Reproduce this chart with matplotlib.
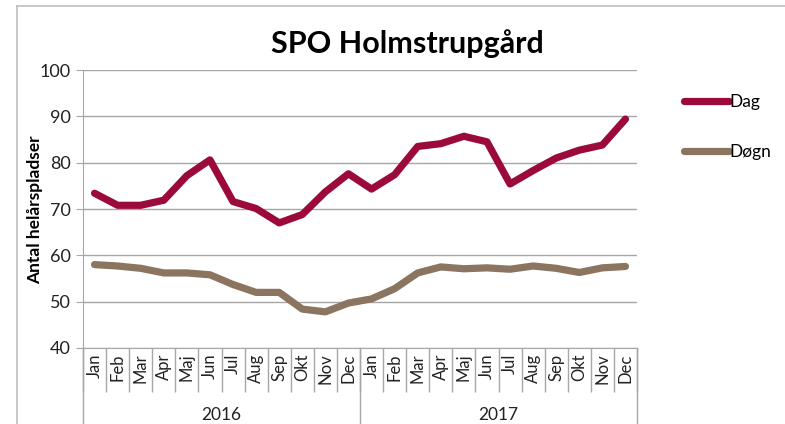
import numpy as np
import matplotlib.pyplot as plt
from matplotlib.lines import Line2D
from matplotlib.transforms import blended_transform_factory

plt.rcParams["font.family"] = ["Lato", "DejaVu Sans"]

# Data
months = ["Jan", "Feb", "Mar", "Apr", "Maj", "Jun",
          "Jul", "Aug", "Sep", "Okt", "Nov", "Dec"]
years = ["2016", "2017"]
dag = [73.4, 70.8, 70.8, 71.9, 77.2, 80.6, 71.6, 70.1, 67.0, 68.8, 73.7, 77.6,
       74.3, 77.4, 83.5, 84.1, 85.7, 84.5, 75.4, 78.3, 81.0, 82.7, 83.8, 89.4]
dogn = [58.0, 57.7, 57.2, 56.2, 56.2, 55.8, 53.7, 52.0, 52.0, 48.4, 47.8, 49.7,
        50.6, 52.8, 56.2, 57.5, 57.1, 57.3, 57.0, 57.7, 57.2, 56.3, 57.3, 57.6]

dag_color = "#9b0a3a"
dogn_color = "#8b7560"
grid_color = "#a6a6a6"

fig = plt.figure(figsize=(7.85, 4.24), dpi=100)
ax = fig.add_axes([83 / 785, 1 - 348 / 424, (637 - 83) / 785, (348 - 70) / 424])

# outer chart frame
fig.add_artist(Line2D([17 / 785, 17 / 785], [0, 1 - 6 / 424], color="#bfbfbf", lw=1.2))
fig.add_artist(Line2D([17 / 785, 1], [1 - 6 / 424, 1 - 6 / 424], color="#bfbfbf", lw=1.2))

x = np.arange(len(dag))
ax.plot(x, dag, color=dag_color, lw=5.2, solid_joinstyle="round",
        solid_capstyle="round", label="Dag")
ax.plot(x, dogn, color=dogn_color, lw=5.2, solid_joinstyle="round",
        solid_capstyle="round", label="Døgn")

ax.set_xlim(-0.5, len(dag) - 0.5)
ax.set_ylim(40, 100)
ax.set_yticks(np.arange(40, 101, 10))
ax.yaxis.grid(True, color=grid_color, lw=1)
ax.set_axisbelow(True)

for side in ["top", "right"]:
    ax.spines[side].set_visible(False)
ax.spines["left"].set_color(grid_color)
ax.spines["bottom"].set_color(grid_color)
ax.tick_params(axis="y", length=5, color=grid_color, labelsize=13,
               labelcolor="#222222", pad=4)

# month labels and separators
ax.set_xticks(x)
ax.set_xticklabels(months * len(years), rotation=90, fontsize=12, color="#222222")
ax.tick_params(axis="x", length=0, pad=4)
ax.set_xticks(np.arange(-0.5, len(dag)), minor=True)
ax.tick_params(axis="x", which="minor", length=32, color=grid_color, width=1)

trans = blended_transform_factory(ax.transData, ax.transAxes)
for i, yr in enumerate(years):
    ax.text(i * 12 + 5.5, -0.24, yr, transform=trans, ha="center", va="center",
            fontsize=12.5, color="#222222")
for b in [-0.5, 11.5, 23.5]:
    ax.add_artist(Line2D([b, b], [0, -0.3], transform=trans, color=grid_color,
                         lw=1, clip_on=False))

fig.text(407 / 785, 1 - 44 / 424, "SPO Holmstrupgård", fontsize=22,
         fontweight="bold", ha="center", va="center")
fig.text(35 / 785, 1 - 210 / 424, "Antal helårspladser", fontsize=12.5,
         fontweight="bold", rotation=90, ha="center", va="center")

fig.legend(loc="upper left", bbox_to_anchor=(668 / 785, 1 - 78 / 424), frameon=False,
           handlelength=2.6, handletextpad=0.05, labelspacing=2.0, fontsize=12.5)

fig.savefig("out.png", dpi=100)
